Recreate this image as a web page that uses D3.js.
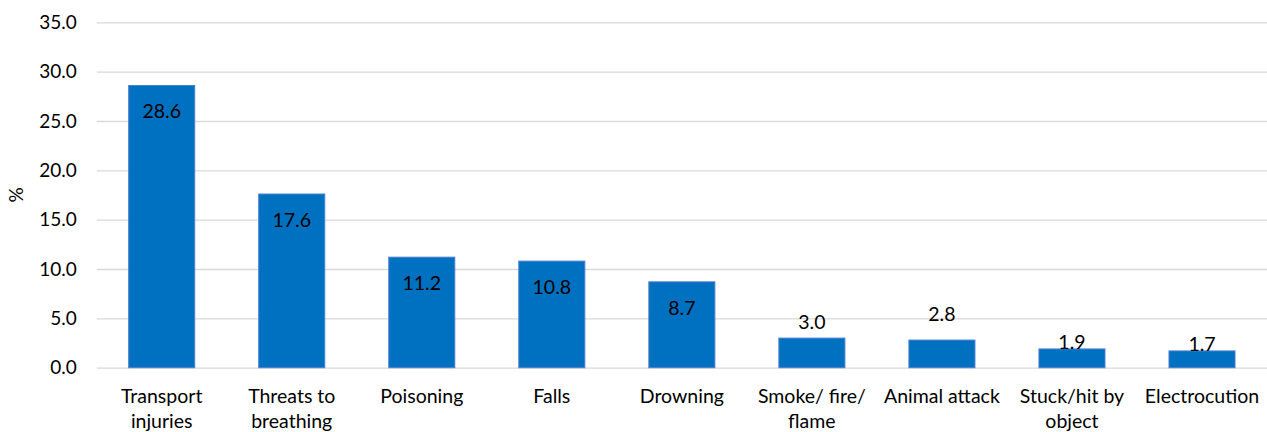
<!DOCTYPE html>
<html>
<head>
<meta charset="utf-8">
<script src="https://cdn.jsdelivr.net/npm/d3@7"></script>
<style>
  html, body { margin: 0; padding: 0; background: #fff; }
  svg { display: block; }
  text { font-family: Lato, "Liberation Sans", sans-serif; fill: #000; }
</style>
</head>
<body>
<svg id="chart" width="1267" height="432"></svg>
<script>
// Share of deaths by injury cause (%)
const categories = ["Transport injuries", "Threats to breathing", "Poisoning", "Falls", "Drowning",
                    "Smoke/ fire/ flame", "Animal attack", "Stuck/hit by object", "Electrocution"];
const values = [28.6, 17.6, 11.2, 10.8, 8.7, 3.0, 2.8, 1.9, 1.7];
const yTicks = [0, 5, 10, 15, 20, 25, 30, 35];

// Vertical placement of each value label, as baseline offset from the bar top
const labelDy = [33, 33, 33, 33, 33, -9, -19, 0, 0];

const svg = d3.select("#chart");
const margin = { top: 22.3, right: 0, bottom: 64.3, left: 96.7 };
const W = 1267, H = 432;

const x = d3.scaleBand()
  .domain(categories)
  .range([margin.left, W - margin.right])
  .paddingInner(0.4923)
  .paddingOuter(0.246);

const y = d3.scaleLinear()
  .domain([0, 35])
  .range([H - margin.bottom, margin.top]);

// Gridlines and y tick labels
const yAxis = d3.axisLeft(y)
  .tickValues(yTicks)
  .tickFormat(d3.format(".1f"))
  .tickSize(-(W - margin.right - margin.left))
  .tickPadding(20);

const gy = svg.append("g")
  .attr("transform", `translate(${margin.left},0)`)
  .call(yAxis);
gy.select(".domain").remove();
gy.selectAll(".tick line").attr("stroke", "#d9d9d9").attr("stroke-width", 1.3);
gy.selectAll(".tick text")
  .style("font-size", "19px")
  .attr("fill", "#000");

// Y axis title
svg.append("text")
  .attr("transform", `translate(23,${(y(15) + y(20)) / 2}) rotate(-90)`)
  .attr("text-anchor", "middle")
  .style("font-size", "19px")
  .text("%");

// Bars
svg.append("g").selectAll("rect")
  .data(values)
  .join("rect")
  .attr("x", (d, i) => x(categories[i]))
  .attr("y", d => y(d))
  .attr("width", x.bandwidth())
  .attr("height", d => y(0) - y(d))
  .attr("fill", "#0070c0")
  .attr("stroke", "#4a7fd0")
  .attr("stroke-width", 1);

// Value labels
svg.append("g").selectAll("text")
  .data(values)
  .join("text")
  .attr("x", (d, i) => x(categories[i]) + x.bandwidth() / 2)
  .attr("y", (d, i) => y(d) + labelDy[i])
  .attr("text-anchor", "middle")
  .style("font-size", "19.5px")
  .text(d => d3.format(".1f")(d));

// Category labels, wrapped to the band width
const xg = svg.append("g");
categories.forEach(c => {
  const t = xg.append("text")
    .attr("x", x(c) + x.bandwidth() / 2)
    .attr("y", 403)
    .attr("text-anchor", "middle")
    .style("font-size", "19.5px");
  const words = c.split(" ");
  const maxW = x.step() - 4;
  let line = [];
  let tspan = t.append("tspan").attr("x", x(c) + x.bandwidth() / 2).attr("dy", 0);
  words.forEach(w => {
    line.push(w);
    tspan.text(line.join(" "));
    if (tspan.node().getComputedTextLength() > maxW && line.length > 1) {
      line.pop();
      tspan.text(line.join(" "));
      line = [w];
      tspan = t.append("tspan").attr("x", x(c) + x.bandwidth() / 2).attr("dy", 25).text(w);
    }
  });
});
</script>
</body>
</html>
